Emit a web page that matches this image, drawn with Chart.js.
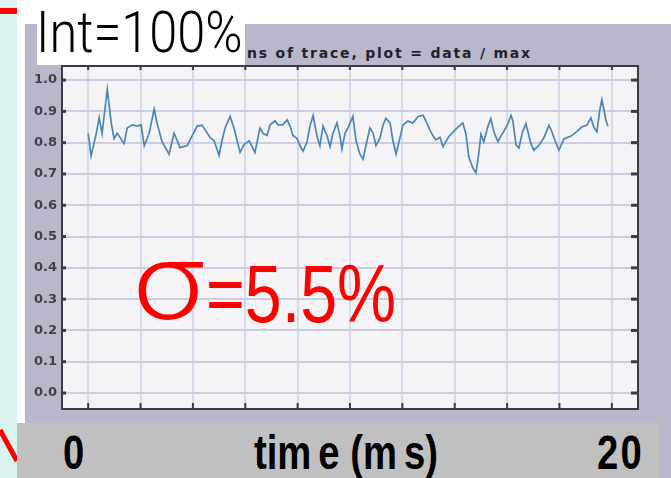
<!DOCTYPE html>
<html>
<head>
<meta charset="utf-8">
<script src="https://cdn.jsdelivr.net/npm/chart.js@4"></script>
<style>
  html, body { margin:0; padding:0; }
  body { width:671px; height:478px; position:relative; overflow:hidden; background:#ffffff; font-family:'Liberation Sans', Arial, sans-serif; }
  .abs { position:absolute; }
  #cyan { left:0; top:0; width:17px; height:478px; background:#dcf3f0; }
  #panel { left:25px; top:24px; right:0; bottom:0; background:#b8b8ca; }
  #redtop { left:0; top:8px; width:17px; height:6px; background:#ff0000; }
  #band { left:17px; top:423px; width:642px; height:55px; background:#c0c0c0; }
  .bandtxt { font-family:'Liberation Sans', Arial, sans-serif; font-weight:bold; font-size:49px; line-height:49px; color:#000; transform:scaleX(0.78); transform-origin:left top; white-space:pre; top:428px; }
  #intbox { left:37px; top:0; width:208px; height:65px; background:#ffffff; }
  #inttxt { left:36px; top:3px; font-size:58px; line-height:58px; color:#000; transform:scaleX(0.87); transform-origin:left top; white-space:pre; font-family:Roboto, 'Liberation Sans', sans-serif; font-weight:300; }
  #title { left:247px; top:46px; font-family:'DejaVu Sans', sans-serif; font-weight:bold; font-size:14px; line-height:14px; letter-spacing:1.8px; color:#22222a; white-space:pre; }
  #wrap { left:0; top:0; width:671px; height:478px; }
  .sig { color:#ff0000; white-space:pre; }
  #sigma { left:133px; top:228px; font-size:108px; line-height:108px; font-family:Roboto, 'Liberation Sans', sans-serif; font-weight:300; transform:scaleX(1.17); transform-origin:left top; }
  #sigval { left:206px; top:253px; font-size:82px; line-height:82px; transform:scaleX(0.81); transform-origin:left top; font-family:'Liberation Sans', Arial, sans-serif; }
</style>
</head>
<body>
<div id="cyan" class="abs"></div>
<div id="panel" class="abs"></div>
<div id="redtop" class="abs"></div>
<svg class="abs" style="left:0;top:0" width="30" height="478"><line x1="0" y1="430" x2="17" y2="461" stroke="#ff0000" stroke-width="5"/></svg>
<div id="band" class="abs"></div>
<div class="abs bandtxt" style="left:63px;">0</div>
<div class="abs bandtxt" style="left:254px;">tim<span style="margin-left:9px">e</span> (m<span style="margin-left:9px">s</span>)</div>
<div class="abs bandtxt" style="left:597px;letter-spacing:3px;">20</div>
<div id="intbox" class="abs"></div>
<div id="inttxt" class="abs">Int=100%</div>
<div id="title" class="abs">ns of trace, plot = data / max</div>
<div id="wrap" class="abs"><canvas id="c" width="671" height="478"></canvas></div>
<div id="sigma" class="abs sig">σ</div>
<div id="sigval" class="abs sig">=5.5%</div>

<script>
// ---- data (time in ms, normalised intensity = data / max) ----
const times = [
  0.00, 0.11, 0.31, 0.42, 0.53, 0.73, 0.88, 0.99, 1.11, 1.37,
  1.49, 1.68, 1.87, 2.02, 2.14, 2.33, 2.52, 2.63, 2.82, 3.09,
  3.28, 3.40, 3.51, 3.78, 3.97, 4.16, 4.35, 4.66, 4.81, 5.00,
  5.11, 5.23, 5.42, 5.57, 5.80, 5.95, 6.15, 6.37, 6.56, 6.68,
  6.83, 6.95, 7.14, 7.25, 7.44, 7.60, 7.71, 7.82, 7.98, 8.09,
  8.21, 8.36, 8.47, 8.59, 8.74, 8.85, 8.97, 9.12, 9.24, 9.35,
  9.50, 9.62, 9.69, 9.81, 9.92, 10.11, 10.23, 10.38, 10.50, 10.61,
  10.76, 10.88, 10.99, 11.15, 11.26, 11.37, 11.53, 11.64, 11.76, 11.91,
  12.02, 12.21, 12.40, 12.60, 12.79, 12.90, 13.05, 13.17, 13.28, 13.44,
  13.55, 13.66, 13.78, 13.97, 14.16, 14.31, 14.43, 14.54, 14.69, 14.81,
  14.92, 15.00, 15.11, 15.27, 15.38, 15.50, 15.65, 15.76, 15.88, 16.03,
  16.15, 16.22, 16.34, 16.45, 16.60, 16.72, 16.91, 17.02, 17.21, 17.40,
  17.60, 17.71, 17.86, 17.98, 18.17, 18.44, 18.66, 18.85, 19.05, 19.20,
  19.31, 19.43, 19.54, 19.62, 19.77, 19.85
];
const values = [
  0.830, 0.757, 0.830, 0.880, 0.830, 0.970, 0.863, 0.813, 0.830, 0.797,
  0.847, 0.857, 0.853, 0.857, 0.790, 0.830, 0.907, 0.863, 0.803, 0.763,
  0.830, 0.806, 0.784, 0.791, 0.822, 0.853, 0.856, 0.816, 0.806, 0.759,
  0.806, 0.847, 0.884, 0.847, 0.769, 0.794, 0.806, 0.769, 0.847, 0.830,
  0.823, 0.857, 0.870, 0.857, 0.857, 0.873, 0.853, 0.823, 0.813, 0.790,
  0.773, 0.803, 0.853, 0.887, 0.820, 0.790, 0.853, 0.823, 0.787, 0.830,
  0.863, 0.820, 0.780, 0.830, 0.847, 0.884, 0.806, 0.763, 0.747, 0.791,
  0.847, 0.831, 0.791, 0.816, 0.856, 0.878, 0.863, 0.806, 0.763, 0.816,
  0.856, 0.869, 0.863, 0.884, 0.888, 0.869, 0.841, 0.822, 0.809, 0.817,
  0.787, 0.803, 0.820, 0.837, 0.853, 0.863, 0.827, 0.753, 0.720, 0.703,
  0.767, 0.827, 0.803, 0.853, 0.877, 0.833, 0.803, 0.820, 0.837, 0.860,
  0.887, 0.870, 0.793, 0.783, 0.837, 0.860, 0.797, 0.776, 0.791, 0.815,
  0.856, 0.835, 0.800, 0.776, 0.812, 0.821, 0.835, 0.850, 0.856, 0.879,
  0.850, 0.835, 0.903, 0.938, 0.874, 0.852
];
const yTicks = [0.0, 0.1, 0.2, 0.3, 0.4, 0.5, 0.6, 0.7, 0.8, 0.9, 1.0];
const xTicks = [0, 2, 4, 6, 8, 10, 12, 14, 16, 18, 20];

const points = times.map((t, i) => ({ x: t, y: values[i] }));

const framePlugin = {
  id: 'frame',
  beforeDraw(chart) {
    const { ctx, chartArea: a } = chart;
    ctx.save();
    ctx.fillStyle = '#f4f4f6';
    ctx.fillRect(a.left, a.top, a.right - a.left, a.bottom - a.top);
    ctx.restore();
  },
  afterDraw(chart) {
    const { ctx, chartArea: a, scales } = chart;
    ctx.save();
    ctx.fillStyle = '#3a3a48';
    yTicks.forEach(v => {
      const y = scales.y.getPixelForValue(v);
      ctx.fillRect(a.left, y - 1.5, 4, 3);
      ctx.fillRect(a.right - 7, y - 1.5, 7, 3);
    });
    xTicks.forEach(v => {
      const x = scales.x.getPixelForValue(v);
      ctx.fillRect(x - 1, a.top, 2, 4);
      ctx.fillRect(x - 1, a.bottom - 6, 2, 6);
    });
    ctx.strokeStyle = '#3a3a48';
    ctx.lineWidth = 2;
    ctx.strokeRect(a.left, a.top, a.right - a.left, a.bottom - a.top);
    ctx.restore();
  }
};

new Chart(document.getElementById('c'), {
  type: 'line',
  data: {
    datasets: [{
      data: points,
      borderColor: '#4a86b9',
      borderWidth: 1.7,
      pointRadius: 0,
      tension: 0,
      fill: false
    }]
  },
  options: {
    responsive: false,
    animation: false,
    layout: { padding: { left: 25, top: 66, right: 33, bottom: 69 } },
    plugins: { legend: { display: false }, tooltip: { enabled: false }, title: { display: false } },
    scales: {
      x: {
        type: 'linear', min: -1, max: 21,
        afterBuildTicks: s => { s.ticks = xTicks.map(v => ({ value: v })); },
        afterFit: s => { s.height = 0; },
        ticks: { display: false },
        grid: { color: '#d6d9ec', lineWidth: 2, drawTicks: false },
        border: { display: false }
      },
      y: {
        type: 'linear', min: -0.051, max: 1.045,
        afterBuildTicks: s => { s.ticks = yTicks.map(v => ({ value: v })); },
        afterFit: s => { s.width = 37; },
        ticks: {
          color: '#404048',
          font: { family: 'DejaVu Sans', weight: 'bold', size: 13 },
          padding: 5,
          callback: v => Number(v).toFixed(1)
        },
        grid: { color: '#cdcde2', lineWidth: 2, drawTicks: false },
        border: { display: false }
      }
    }
  },
  plugins: [framePlugin]
});
</script>
</body>
</html>
